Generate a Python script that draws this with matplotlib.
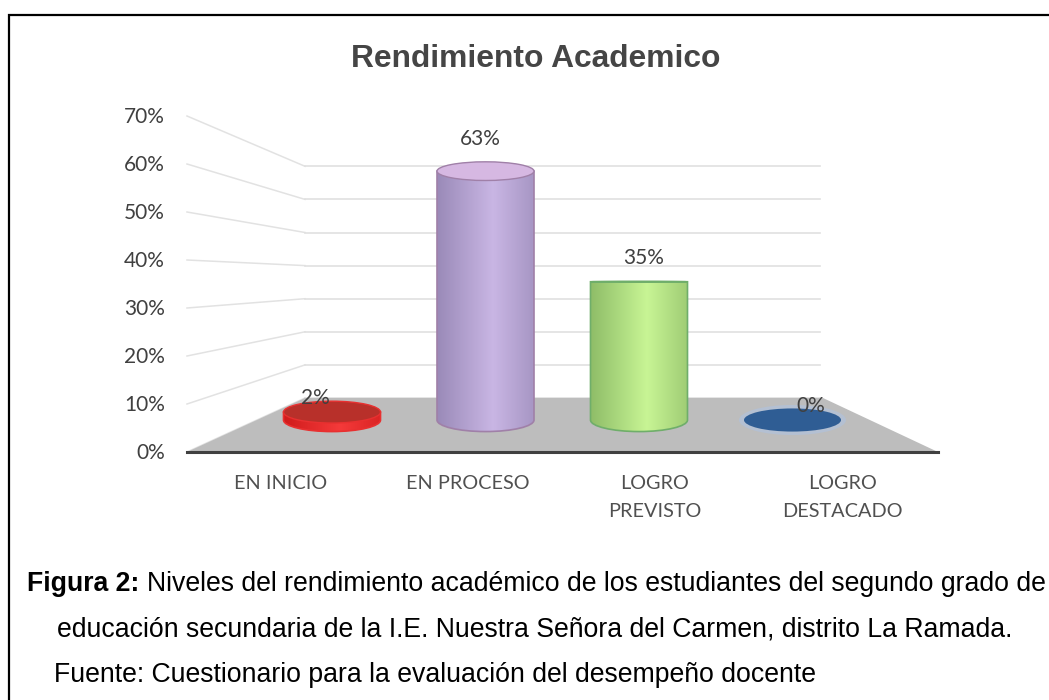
import numpy as np
import matplotlib
matplotlib.use('Agg')
import matplotlib.pyplot as plt
from matplotlib.patches import Ellipse, PathPatch
from matplotlib.path import Path

categories = ['EN INICIO', 'EN PROCESO', 'LOGRO\nPREVISTO', 'LOGRO\nDESTACADO']
values = [2, 63, 35, 0]
ticks = [0, 10, 20, 30, 40, 50, 60, 70]
title = 'Rendimiento Academico'
fuente = 'Fuente: Cuestionario para la evaluación del desempeño docente'

# bar colours: edge, dark side, light middle, top
dark = ['#d01c1c', '#9a8ab8', '#8fbd68', '#2f5d94']
light = ['#f53a3a', '#c9b6e4', '#c8f595', '#2f5d94']
edge = ['#e83030', '#a080a8', '#6fae6a', '#a9bcd6']
top_col = ['#b8302a', '#d6b8e2', '#a8d884', '#2f5d94']

# where the value labels sit relative to the bar centre / in the image
label_dx = [-17, -5, 5, 18]
label_y = [398, 139, 258, 406]

# the axes use image pixels, the helpers below turn values into them
fig = plt.figure(figsize=(10.49, 7), dpi=100)
ax = fig.add_axes([0, 0, 1, 1])
ax.set_xlim(0, 1049)
ax.set_ylim(700, 0)
ax.axis('off')

def front_y(v):
    return 452 - v * 4.8

def back_y(v):
    return 398 - v * 3.31

def bar_x(i):
    return 332 + i * 153.5

def bar_y(v):
    return 420 - v * 3.95

def squash(y):
    # ellipse gets flatter near eye level, which sits at about 35%
    return abs(y - bar_y(35)) * 0.08 + 0.5

# frame, open on the right and at the bottom
ax.plot([9, 9, 1049], [700, 15, 15], color='black', lw=1.6, solid_joinstyle='miter')

# walls and floor
for t in ticks:
    ax.plot([187, 305], [front_y(t), back_y(t)], color='#e2e2e2', lw=1.1, zorder=1)
    ax.plot([305, 820], [back_y(t), back_y(t)], color='#e0e0e0', lw=1.2, zorder=1)
    ax.text(165, front_y(t) + 1, f'{t}%', ha='right', va='center', fontsize=15, family='Lato', color='#404040')

ax.add_patch(plt.Polygon([(187, front_y(0)), (305, back_y(0)), (823, back_y(0)), (938, front_y(0))],
                         facecolor='#bdbdbd', edgecolor='none', zorder=2))
ax.plot([187, 938], [front_y(0), front_y(0)], color='#404040', lw=2.2, zorder=3)

# cylinders
for i, v in enumerate(values):
    cx = bar_x(i)
    hw = 48.5
    base = bar_y(0)
    top = bar_y(v)
    if v == 0:
        ax.add_patch(Ellipse((cx, base), hw * 2 + 10, squash(base) * 2 + 7, facecolor='#b4c0d2', edgecolor='none', zorder=4))
        ax.add_patch(Ellipse((cx, base), hw * 2, squash(base) * 2, facecolor=dark[i], edgecolor='none', zorder=5))
        continue
    b = squash(base)
    k = 0.5523
    verts = [(cx - hw, top), (cx - hw, base),
             (cx - hw, base + b * k), (cx - hw * k, base + b), (cx, base + b),
             (cx + hw * k, base + b), (cx + hw, base + b * k), (cx + hw, base),
             (cx + hw, top), (cx - hw, top)]
    codes = [Path.MOVETO, Path.LINETO, Path.CURVE4, Path.CURVE4, Path.CURVE4,
             Path.CURVE4, Path.CURVE4, Path.CURVE4, Path.LINETO, Path.CLOSEPOLY]
    body = PathPatch(Path(verts, codes), facecolor='none', edgecolor=edge[i], lw=1.2, zorder=6)
    ax.add_patch(body)
    u = np.linspace(0, 1, 200)
    shade = np.clip(1 - np.abs(u - 0.58) / 0.58, 0, 1)[None, :, None]
    c0 = np.array(matplotlib.colors.to_rgb(dark[i]))
    c1 = np.array(matplotlib.colors.to_rgb(light[i]))
    img = ax.imshow(c0 + (c1 - c0) * shade, extent=[cx - hw, cx + hw, base + b, top], aspect='auto', zorder=5)
    img.set_clip_path(body)
    ax.set_xlim(0, 1049)
    ax.set_ylim(700, 0)
    ax.add_patch(Ellipse((cx, top), hw * 2, max(squash(top) * 2, 1), facecolor=top_col[i], edgecolor=edge[i], lw=1, zorder=7))

# labels
for i, v in enumerate(values):
    ax.text(bar_x(i) + label_dx[i], label_y[i], f'{v}%', ha='center', va='center', fontsize=15,
            family='Lato', color='#404040', zorder=8)
    # category labels are spread wider than the bars because of the perspective
    ax.text(281 + i * 187, 475, categories[i], ha='center', va='top', fontsize=14.3, family='Lato',
            color='#505050', linespacing=1.8)

ax.text(536, 59, title, ha='center', va='center', fontsize=22.9, fontweight='bold',
        family='Liberation Sans', color='#454545')

# caption under the chart
ax.text(27, 584, 'Figura 2:', ha='left', va='center', fontsize=19.2, fontweight='bold', family='Liberation Sans', color='black')
ax.text(147, 584, 'Niveles del rendimiento académico de los estudiantes del segundo grado de', ha='left', va='center',
        fontsize=19.2, family='Liberation Sans', color='black')
ax.text(57, 630, 'educación secundaria de la I.E. Nuestra Señora del Carmen, distrito La Ramada.', ha='left', va='center',
        fontsize=19.2, family='Liberation Sans', color='black')
ax.text(54, 675, fuente, ha='left', va='center', fontsize=19.2, family='Liberation Sans', color='black')

fig.savefig('out.png', dpi=100)
